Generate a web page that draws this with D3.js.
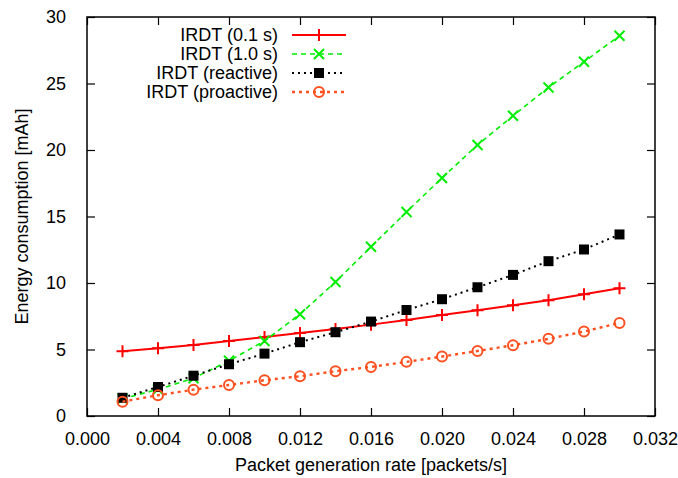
<!doctype html>
<html>
<head>
    <meta charset="UTF-8">
    <title>IRDT energy consumption</title>
    <script src="https://d3js.org/d3.v7.min.js"></script>
    <style>
        body { margin: 0; background: #fff; }
        text { font-family: "Liberation Sans", Arial, Helvetica, sans-serif; font-size: 18px; fill: #000; }
    </style>
</head>
<body>
    <svg id="chart" width="678" height="478"></svg>

    <script>
        // packet generation rate [packets/s]
        var rates = [0.002, 0.004, 0.006, 0.008, 0.010, 0.012, 0.014, 0.016, 0.018, 0.020, 0.022, 0.024, 0.026, 0.028, 0.030];

        // energy consumption [mAh]
        var irdt01 = [4.86, 5.09, 5.34, 5.64, 5.94, 6.24, 6.54, 6.87, 7.22, 7.59, 7.95, 8.33, 8.70, 9.15, 9.61];
        var irdt10 = [1.30, 2.00, 2.84, 4.15, 5.64, 7.65, 10.08, 12.72, 15.34, 17.90, 20.38, 22.57, 24.70, 26.63, 28.59];
        var reactive = [1.37, 2.18, 3.03, 3.89, 4.69, 5.55, 6.30, 7.10, 7.97, 8.78, 9.68, 10.61, 11.64, 12.52, 13.65];
        var proactive = [1.08, 1.56, 1.98, 2.33, 2.69, 2.99, 3.37, 3.69, 4.07, 4.47, 4.89, 5.32, 5.80, 6.35, 7.00];

        var xTicks = [0.000, 0.004, 0.008, 0.012, 0.016, 0.020, 0.024, 0.028, 0.032];
        var yTicks = [0, 5, 10, 15, 20, 25, 30];

        var seriesNames = ["IRDT (0.1 s)", "IRDT (1.0 s)", "IRDT (reactive)", "IRDT (proactive)"];
        var seriesValues = [irdt01, irdt10, reactive, proactive];

        var styles = [
            { color: "#ff0000", width: 2, dash: null, marker: "plus" },
            { color: "#00ee00", width: 1.6, dash: "5,4", marker: "cross" },
            { color: "#000000", width: 2, dash: "2,4", marker: "square" },
            { color: "#ff5020", width: 2.4, dash: "3,4", marker: "circle" }
        ];

        var padLeft = 87, padRight = 655, padTop = 17, padBottom = 416;

        var svg = d3.select("#chart");

        var x = d3.scaleLinear().domain([0, 0.032]).range([padLeft, padRight]);
        var y = d3.scaleLinear().domain([0, 30]).range([padBottom, padTop]);

        // axes with inward ticks, mirrored on top and right
        var tickLen = 8;
        svg.append("g")
            .attr("transform", "translate(0," + padBottom + ")")
            .call(d3.axisBottom(x).tickValues(xTicks).tickSize(-tickLen).tickPadding(tickLen + 8).tickFormat(d3.format(".3f")))
            .call(styleAxis);
        svg.append("g")
            .attr("transform", "translate(0," + padTop + ")")
            .call(d3.axisTop(x).tickValues(xTicks).tickSize(-tickLen).tickFormat(""))
            .call(styleAxis);
        svg.append("g")
            .attr("transform", "translate(" + padLeft + ",0)")
            .call(d3.axisLeft(y).tickValues(yTicks).tickSize(-tickLen).tickPadding(tickLen + 13))
            .call(styleAxis);
        svg.append("g")
            .attr("transform", "translate(" + padRight + ",0)")
            .call(d3.axisRight(y).tickValues(yTicks).tickSize(-tickLen).tickFormat(""))
            .call(styleAxis);

        function styleAxis(g) {
            g.select(".domain").remove();
            g.selectAll(".tick line").attr("stroke", "#000").attr("stroke-width", 1.2);
            g.selectAll(".tick text").attr("font-size", 18).attr("font-family", null);
        }

        svg.append("rect")
            .attr("x", padLeft).attr("y", padTop)
            .attr("width", padRight - padLeft).attr("height", padBottom - padTop)
            .attr("fill", "none").attr("stroke", "#000").attr("stroke-width", 1.5);

        // axis titles
        svg.append("text")
            .attr("x", (padLeft + padRight) / 2)
            .attr("y", 471)
            .attr("text-anchor", "middle")
            .text("Packet generation rate [packets/s]");

        svg.append("text")
            .attr("transform", "translate(28," + (padTop + padBottom) / 2 + ") rotate(-90)")
            .attr("text-anchor", "middle")
            .text("Energy consumption [mAh]");

        function drawMarker(g, type, cx, cy, color) {
            if (type == "plus") {
                g.append("path").attr("d", "M" + (cx - 6) + "," + cy + "h12M" + cx + "," + (cy - 6) + "v12")
                    .attr("stroke", color).attr("stroke-width", 2).attr("fill", "none");
            } else if (type == "cross") {
                g.append("path").attr("d", "M" + (cx - 5) + "," + (cy - 5) + "l10,10M" + (cx - 5) + "," + (cy + 5) + "l10,-10")
                    .attr("stroke", color).attr("stroke-width", 2).attr("fill", "none");
            } else if (type == "square") {
                g.append("rect").attr("x", cx - 5).attr("y", cy - 5).attr("width", 10).attr("height", 10)
                    .attr("fill", color);
            } else {
                g.append("circle").attr("cx", cx).attr("cy", cy).attr("r", 5)
                    .attr("fill", "none").attr("stroke", color).attr("stroke-width", 2);
            }
        }

        var line = d3.line()
            .x(function (d) { return x(d[0]); })
            .y(function (d) { return y(d[1]); });

        for (var s = 0; s < seriesValues.length; s++) {
            var st = styles[s];
            var pts = rates.map(function (r, i) { return [r, seriesValues[s][i]]; });
            var g = svg.append("g");

            g.append("path")
                .attr("d", line(pts))
                .attr("fill", "none")
                .attr("stroke", st.color)
                .attr("stroke-width", st.width)
                .attr("stroke-dasharray", st.dash);

            pts.forEach(function (p) {
                drawMarker(g, st.marker, x(p[0]), y(p[1]), st.color);
            });

            // legend entry
            var ly = 35 + s * 19;
            svg.append("text")
                .attr("x", 278)
                .attr("y", ly + 6)
                .attr("text-anchor", "end")
                .text(seriesNames[s]);
            svg.append("line")
                .attr("x1", 292).attr("x2", 346)
                .attr("y1", ly).attr("y2", ly)
                .attr("stroke", st.color)
                .attr("stroke-width", st.width)
                .attr("stroke-dasharray", st.dash);
            drawMarker(svg, st.marker, 319, ly, st.color);
        }
    </script>
</body>
</html>
